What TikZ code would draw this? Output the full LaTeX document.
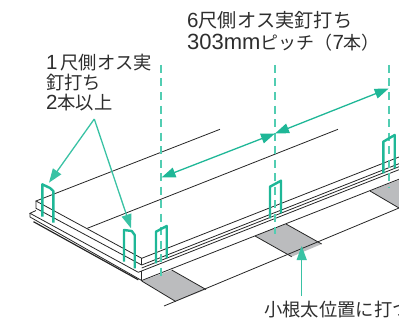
\documentclass[tikz,border=0pt]{standalone}
\usepackage{fontspec}
\setmainfont{Liberation Sans}
\newfontfamily\jp{Noto Sans CJK JP}
\usetikzlibrary{arrows.meta}
\definecolor{nailgreen}{HTML}{1FB797}
\definecolor{pitchgreen}{HTML}{52CDB2}
\definecolor{raftergray}{HTML}{BBBCBE}
\definecolor{labelgray}{HTML}{2E2E2E}
\newcommand{\digits}[1]{{\fontsize{20.5}{20}\selectfont #1}}
\newcommand{\bigdigits}[1]{{\fontsize{22}{20}\selectfont #1}}
\tikzset{
  boardline/.style={line width=0.8pt,black!85},
  clipnail/.style={line width=2.4pt,nailgreen,line join=round},
  pitchline/.style={line width=1.6pt,draw=pitchgreen,dash pattern=on 8pt off 5.5pt},
  leader/.style={line width=1.3pt,pitchgreen!50!nailgreen},
  tiparrow/.style={line width=1.3pt,nailgreen},
  bigtip/.tip={Triangle[length=14pt,width=10pt]},
  labeltext/.style={inner sep=0pt,anchor=base west,labelgray,align=left,font=\fontsize{18.3}{20}\selectfont},
  headtext/.style={labeltext,font=\fontsize{19.2}{20}\selectfont}
}
\begin{document}
\begin{tikzpicture}[x=1pt,y=-1pt]
\useasboundingbox (0,0) rectangle (399,321);
\clip (0,0) rectangle (399,321);
% pitch lines
\coordinate (pitchA) at (161.5,177.5);
\coordinate (pitchB) at (275,133.5);
\coordinate (pitchC) at (388.7,88.5);
% rafters below the boards
\fill[raftergray] (141.7,281) -- (171.7,270) -- (206,289.5) -- (175.7,301.5) -- cycle;
\fill[raftergray] (255,236) -- (286,224) -- (321.7,244) -- (291.7,256.7) -- cycle;
\fill[raftergray] (370,191) -- (399,180) -- (399,208) -- cycle;
\draw[boardline] (141.7,281) -- (175.7,301.5);
\draw[boardline] (171.7,270) -- (206,289.5);
\draw[boardline] (255,236) -- (291.7,256.7);
\draw[boardline] (286,224) -- (321.7,244);
\draw[boardline] (370,191) -- (399,208);
\draw[boardline] (164,306) -- (399,208);
% boards
\draw[boardline] (220,129.3) -- (36,201) -- (141.7,258.3) -- (399,157);
\draw[boardline] (87.3,228.3) -- (338,129.3);
\draw[boardline] (36,201) -- (36,208.3) -- (141.7,265) -- (399,163.7);
\draw[boardline] (141.7,258.3) -- (141.7,265);
\draw[boardline] (141.7,268) -- (399,166.7);
\draw[boardline] (36,210.5) -- (30,213.3) -- (138.3,272.3) -- (399,169.7);
\draw[boardline] (30,213.3) -- (30,217) -- (141.7,280.5) -- (399,179.2);
\draw[boardline] (141.7,270.5) -- (141.7,280.5);
\draw[line width=1.2pt,black!85] (33.5,221.7) -- (138.3,279.8);
% dashes
\draw[pitchline] (275,65) -- (275,233.5);
\draw[pitchline] (388.7,65) -- (388.7,188);
\draw[pitchline] (161.2,65) -- (161.2,279);
% clips
\draw[clipnail] (42.3,216.7) -- (42.3,184.3) -- (50,188) -- (53.3,191) -- (53.3,222.7);
\draw[clipnail] (124,261.7) -- (124,230) -- (131.7,231) -- (134.7,235) -- (134.7,268.3);
\draw[clipnail] (156,263.3) -- (156,231.7) -- (166.7,226) -- (166.7,258.3);
\draw[clipnail] (270,218.3) -- (270,186.7) -- (281,180.7) -- (281,213.3);
\draw[clipnail] (383.3,173.3) -- (383.3,141.7) -- (394.7,135) -- (394.7,168.3);
% arrows
\coordinate (apex) at (94.3,119);
\coordinate (clipA) at (49,182.7);
\coordinate (clipB) at (131,228.3);
\draw[leader,-bigtip] (apex) -- (clipA);
\draw[leader,-bigtip] (apex) -- (clipB);
\draw[tiparrow,bigtip-bigtip] (pitchA) -- (pitchB);
\draw[tiparrow,bigtip-bigtip] (pitchB) -- (pitchC);
\coordinate (rafterTip) at (301.7,246);
\coordinate (rafterTail) at (301.7,296);
\draw[leader,-bigtip] (rafterTail) -- (rafterTip);
% labels
\node[headtext] (pitchtop) at (187,27.7) {\digits{6}{\jp 尺側オス実釘打ち}};
\node[headtext] (pitchbottom) at (187,49.3) {\bigdigits{303mm}{\fontsize{18}{20}\selectfont\jp ピッチ（{\fontsize{20.5}{20}\selectfont\rmfamily 7}本）}};
\node[labeltext] (endlabel) at (46,109.3) {\digits{1}\,{\jp 尺側オス実}\\{\jp 釘打ち}\\\digits{2}{\jp 本以上}};
\node[labeltext] (rafterlabel) at (264,316) {{\jp 小根太位置に打つ}};
\end{tikzpicture}
\end{document}
